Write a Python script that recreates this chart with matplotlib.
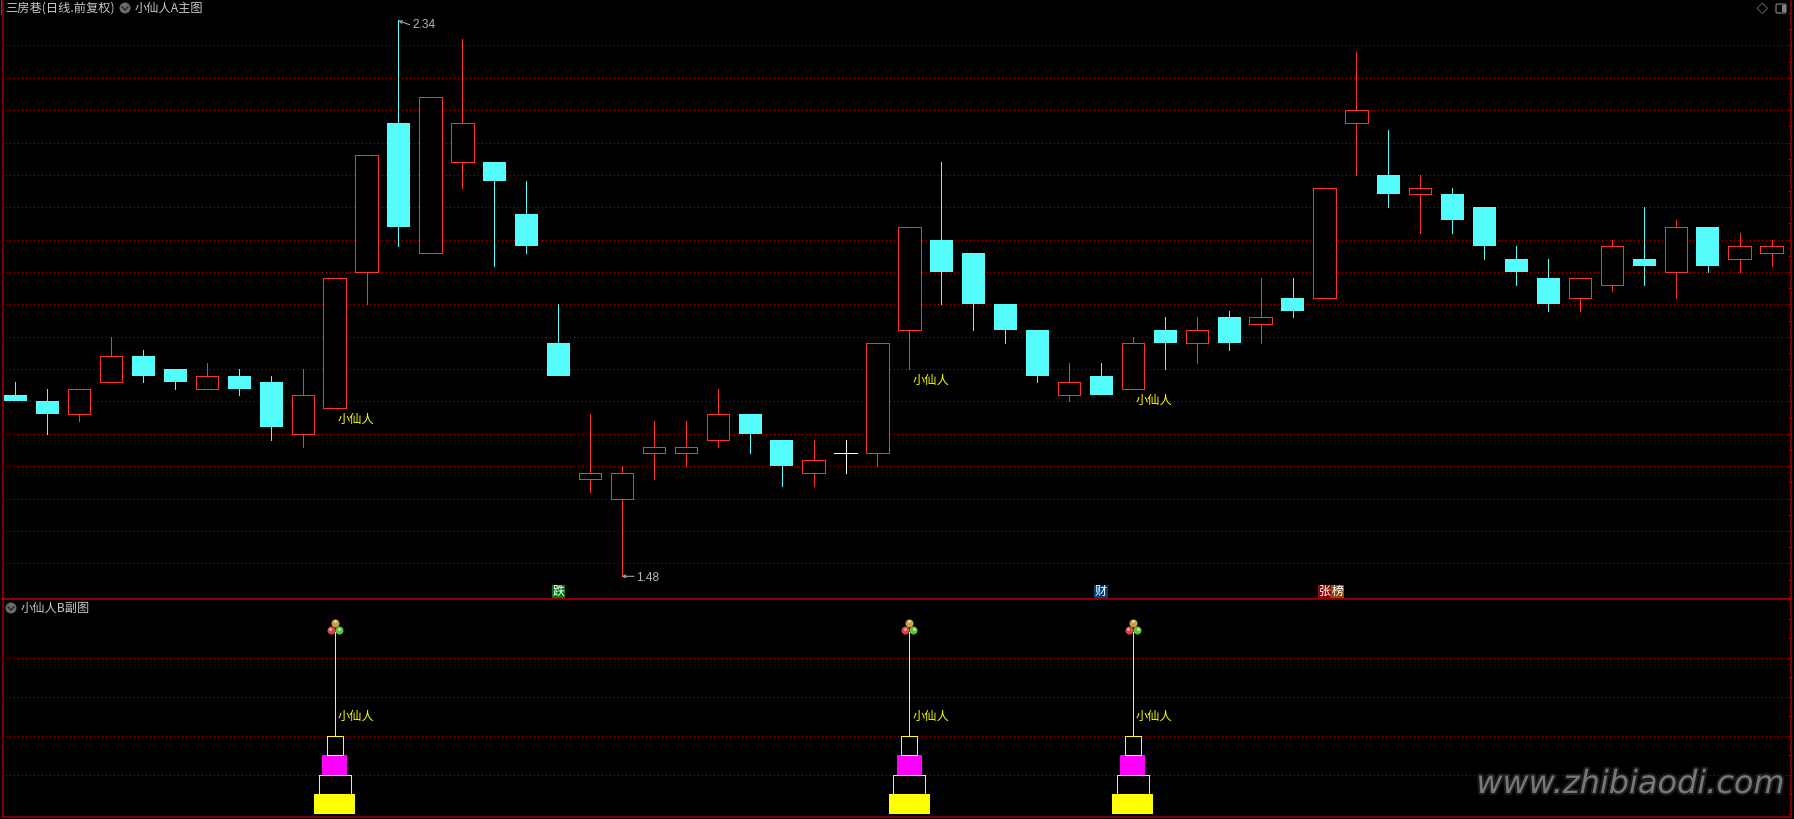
import numpy as np
import matplotlib
matplotlib.use('Agg')
import matplotlib.pyplot as plt
from matplotlib.patches import Rectangle, Circle, FancyBboxPatch, Polygon
from matplotlib import patheffects as pe

plt.rcParams['font.family'] = ['Noto Sans CJK SC', 'DejaVu Sans']

# 日K数据
opens = [1.76, 1.75, 1.73, 1.78, 1.82, 1.80, 1.77, 1.79, 1.78, 1.70, 1.74, 1.95, 2.18, 1.98,
         2.12, 2.12, 2.04, 1.84, 1.63, 1.60, 1.67, 1.67, 1.69, 1.73, 1.69, 1.64, 1.67, 1.67,
         1.86, 2.00, 1.98, 1.90, 1.86, 1.76, 1.79, 1.77, 1.86, 1.84, 1.88, 1.87, 1.91, 1.91,
         2.18, 2.10, 2.07, 2.07, 2.05, 1.97, 1.94, 1.91, 1.93, 1.97, 1.95, 2.02, 1.97, 1.98]
closes = [1.75, 1.73, 1.77, 1.82, 1.79, 1.78, 1.79, 1.77, 1.71, 1.76, 1.94, 2.13, 2.02, 2.22,
          2.18, 2.09, 1.99, 1.79, 1.64, 1.64, 1.68, 1.68, 1.73, 1.70, 1.65, 1.66, 1.67, 1.84,
          2.02, 1.95, 1.90, 1.86, 1.79, 1.78, 1.76, 1.84, 1.84, 1.86, 1.84, 1.88, 1.89, 2.08,
          2.20, 2.07, 2.08, 2.03, 1.99, 1.95, 1.90, 1.94, 1.99, 1.96, 2.02, 1.96, 1.99, 1.99]
highs = [1.78, 1.77, 1.77, 1.85, 1.83, 1.80, 1.81, 1.80, 1.79, 1.80, 1.94, 2.13, 2.34, 2.22,
         2.31, 2.12, 2.09, 1.90, 1.73, 1.65, 1.72, 1.72, 1.77, 1.73, 1.69, 1.69, 1.69, 1.84,
         2.02, 2.12, 1.98, 1.90, 1.86, 1.81, 1.81, 1.85, 1.88, 1.88, 1.89, 1.94, 1.94, 2.08,
         2.29, 2.17, 2.10, 2.08, 2.05, 1.99, 1.97, 1.94, 2.00, 2.05, 2.03, 2.02, 2.01, 2.00]
lows = [1.75, 1.70, 1.72, 1.78, 1.78, 1.77, 1.77, 1.76, 1.69, 1.68, 1.74, 1.90, 1.99, 1.98,
        2.08, 1.96, 1.98, 1.79, 1.61, 1.48, 1.63, 1.65, 1.68, 1.67, 1.62, 1.62, 1.64, 1.65,
        1.80, 1.90, 1.86, 1.84, 1.78, 1.75, 1.76, 1.77, 1.80, 1.81, 1.83, 1.84, 1.88, 1.91,
        2.10, 2.05, 2.01, 2.01, 1.97, 1.93, 1.89, 1.89, 1.92, 1.93, 1.91, 1.95, 1.95, 1.96]

signal_days = [10, 28, 35]
signal_text = '小仙人'
tag_days = [17, 34, 41]
tag_texts = [['跌'], ['财'], ['张', '榜']]
tag_colors = [['#007a10'], ['#053f78'], ['#8a0808', '#8a4a08']]

# 副图的四层台阶 (下沿, 上沿, 宽度)
step_low = [0, 1, 2, 3]
step_high = [1, 2, 3, 4]
step_width = [1.28, 1.0, 0.78, 0.5]
step_filled = [True, False, True, False]
step_color = ['#ffff00', '#ffff00', '#ff00ff', '#ffff00']
stem_top = 9.3
label_val = 5.0

RED = '#ff3232'
CYAN = '#54fcfc'
GRID = '#b00000'
BORDER = '#a00000'
GRAY = '#b4b4b4'
px = 0.72  # 1像素对应的磅数
DOTS = (0, (1, 3))

W, H = 1794, 819
fig = plt.figure(figsize=(W / 100, H / 100), dpi=100, facecolor='black')


def panel(top, bottom):
    ax = fig.add_axes([3 / W, 1 - bottom / H, 1788 / W, (bottom - top) / H], facecolor='black')
    for s in ax.spines.values():
        s.set_color(BORDER)
        s.set_linewidth(1.5 * px)
    ax.spines['top'].set_visible(False)
    ax.set_xlim(-0.385, 55.61)
    ax.set_xticks([])
    ax.yaxis.tick_right()
    ax.tick_params(axis='y', direction='in', length=2.5, width=px, color=BORDER, labelright=False)
    return ax


# 主图
ax = panel(1, 599)
ax.set_ylim(1.4449, 2.3686)
ax.set_yticks(np.arange(1.45, 2.36, 0.025))
ax.hlines(np.arange(1.50, 2.31, 0.05), -0.3, 55.61, color=GRID, lw=px,
          linestyle=DOTS, zorder=1, antialiased=False)

body_w = 0.7
for i in range(len(opens)):
    o, c, h, l = opens[i], closes[i], highs[i], lows[i]
    top, bot = max(o, c), min(o, c)
    if c > o:
        color = RED
    elif c < o:
        color = CYAN
    else:
        color = 'white'
    ax.vlines(i, bot, l, color=color, lw=px, zorder=2, antialiased=False)
    ax.vlines(i, top, h, color=color, lw=px, zorder=2, antialiased=False)
    if c > o:
        ax.add_patch(Rectangle((i - body_w / 2, o), body_w, c - o, fc='black', ec=RED,
                               lw=px, zorder=3, antialiased=False))
    elif c < o:
        ax.add_patch(Rectangle((i - body_w / 2, c), body_w + 0.02, o - c, fc=CYAN, ec='none',
                               zorder=3, antialiased=False))
    else:
        ax.hlines(c, i - body_w / 2, i + body_w / 2, color=color, lw=px, zorder=3, antialiased=False)

for d in signal_days:
    ax.text(d + 0.1, lows[d] - 0.0175, signal_text, color='#ffff00', fontsize=8.8,
            ha='left', va='center', zorder=5)

# 最高最低价标注
hi = int(np.argmax(highs))
lo = int(np.argmin(lows))
ax.annotate('', xy=(hi, highs[hi] - 0.002), xytext=(hi + 0.35, highs[hi] - 0.008),
            arrowprops=dict(arrowstyle='->', color=GRAY, lw=px, mutation_scale=5, shrinkA=0, shrinkB=0))
ax.text(hi + 0.45, highs[hi] - 0.008, '%.2f' % highs[hi], color=GRAY, fontsize=8.6,
        family='Liberation Sans', va='center', ha='left')
ax.annotate('', xy=(lo, lows[lo]), xytext=(lo + 0.38, lows[lo]),
            arrowprops=dict(arrowstyle='->', color=GRAY, lw=px, mutation_scale=5, shrinkA=0, shrinkB=0))
ax.text(lo + 0.45, lows[lo] - 0.002, '%.2f' % lows[lo], color=GRAY, fontsize=8.6,
        family='Liberation Sans', va='center', ha='left')

# 底部小标签
tag_w = 0.41
for d, texts, cols in zip(tag_days, tag_texts, tag_colors):
    for k in range(len(texts)):
        x0 = d - tag_w / 2 + k * tag_w
        ax.add_patch(Rectangle((x0, 1.4470), tag_w, 0.0195, fc=cols[k], ec='none', zorder=4))
        ax.text(x0 + tag_w / 2, 1.4565, texts[k], color='white', fontsize=8.6, ha='center',
                va='center', zorder=5)

# 副图
ax2 = panel(599, 817)
ax2.spines['top'].set_visible(True)
ax2.set_ylim(-0.175, 11.0)
ax2.set_yticks(np.arange(0, 11, 1))
ax2.hlines([2, 4, 6, 8], -0.3, 55.61, color=GRID, lw=px, linestyle=DOTS,
           zorder=1, antialiased=False)
for d in signal_days:
    ax2.vlines(d, step_high[-1], stem_top, color='#ffff00', lw=px, zorder=2, antialiased=False)
    for lo_v, hi_v, w, filled, col in zip(step_low, step_high, step_width, step_filled, step_color):
        ax2.add_patch(Rectangle((d - w / 2, lo_v), w, hi_v - lo_v, fc=col if filled else 'black',
                                ec='none' if filled else col, lw=px, zorder=3, antialiased=False))
    ax2.text(d + 0.1, label_val, signal_text, color='#ffff00', fontsize=8.8, ha='left',
             va='center', zorder=5)
    # 三色球图标
    ax2.plot([d], [9.76], 'o', ms=5.8, color='#c8a040', mew=0, zorder=4)
    ax2.plot([d - 0.125], [9.4], 'o', ms=5.8, color='#d04848', mew=0, zorder=4)
    ax2.plot([d + 0.125], [9.4], 'o', ms=5.8, color='#62c040', mew=0, zorder=4)
    ax2.plot([d], [9.88], 'o', ms=2, color='#f0e0a0', mew=0, zorder=5)
    ax2.plot([d - 0.15], [9.48], 'o', ms=2, color='#f0b0b0', mew=0, zorder=5)
    ax2.plot([d + 0.15], [9.48], 'o', ms=2, color='#c0f0a0', mew=0, zorder=5)

# 界面元素和水印, 用像素坐标
ui = fig.add_axes([0, 0, 1, 1], facecolor='none')
ui.set_xlim(0, W)
ui.set_ylim(H, 0)
ui.axis('off')
title_c = '#c8c8c8'
ui.text(5, 8, '三房巷(日线.前复权)', color=title_c, fontsize=8.8, va='center', ha='left')
ui.text(135, 8, '小仙人A主图', color=title_c, fontsize=8.8, va='center', ha='left')
ui.text(21, 608, '小仙人B副图', color=title_c, fontsize=8.8, va='center', ha='left')
ui.plot([0.5, 0.5], [0, 14], color='#505050', lw=px)
for cx, cy in [(125, 8), (11, 608)]:
    ui.add_patch(Circle((cx, cy), 5.5, fc='#6a6a6a', ec='none'))
    ui.plot([cx - 3, cx, cx + 3], [cy - 1, cy + 2, cy - 1], color='#1c1c1c', lw=1.2 * px)
ui.add_patch(Polygon([(1762.3, 3), (1767.5, 8.3), (1762.3, 13.5), (1757, 8.3)], fc='none',
                     ec='#5a5a5a', lw=px))
ui.add_patch(FancyBboxPatch((1776, 4), 10, 9, boxstyle='round,pad=0,rounding_size=1.5', fc='none',
                            ec='#808080', lw=1.2 * px))
ui.add_patch(Rectangle((1782, 5), 3.5, 7, fc='#808080', ec='none'))

wm = ui.text(1785, 793, 'www.zhibiaodi.com', color='#787878', fontsize=23, style='italic',
             family='DejaVu Sans', ha='right', va='baseline')
wm.set_path_effects([pe.withStroke(linewidth=3, foreground='#1c1c1c')])

fig.savefig('out.png', dpi=100, facecolor='black')
